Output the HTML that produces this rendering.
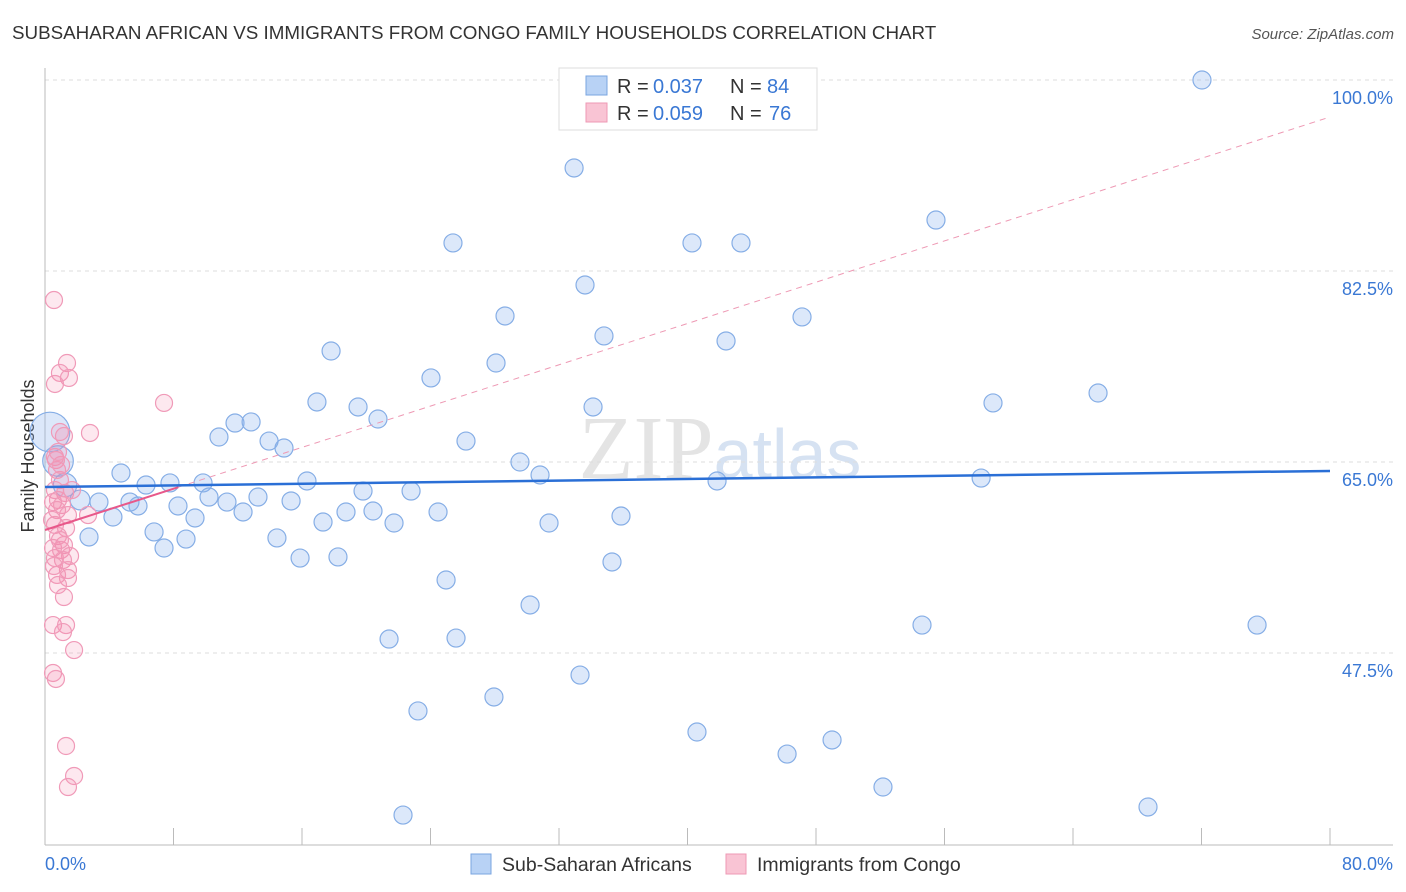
<!DOCTYPE html>
<html><head><meta charset="utf-8"><style>
body{margin:0;background:#fff;font-family:"Liberation Sans",sans-serif}
svg{display:block}
</style></head><body>
<svg id="c" width="1406" height="892" xmlns="http://www.w3.org/2000/svg">
<text x="12" y="39" font-size="18.8" fill="#333">SUBSAHARAN AFRICAN VS IMMIGRANTS FROM CONGO FAMILY HOUSEHOLDS CORRELATION CHART</text>
<text x="1394" y="39" font-size="15" fill="#555" font-style="italic" text-anchor="end">Source: ZipAtlas.com</text>
<text x="720" y="478" font-size="90" fill="#e4e4e4" text-anchor="middle" font-family="Liberation Serif,serif">ZIP<tspan fill="#d6e2f2" font-family="Liberation Sans,sans-serif" font-size="70">atlas</tspan></text>
<text transform="translate(34,456) rotate(-90)" font-size="18" fill="#333" text-anchor="middle">Family Households</text>
<g id="grid"></g><g id="axes"></g><g id="marks"></g>
<g>
<rect x="559" y="68" width="258" height="62" fill="#fff" stroke="#ddd"/>
<rect x="586" y="76" width="21" height="19" fill="#b8d2f5" stroke="#7aa5e0"/>
<rect x="586" y="103" width="21" height="19" fill="#f9c4d4" stroke="#ee99b4"/>
<text x="617" y="93" font-size="20" fill="#333">R =</text>
<text x="653" y="93" font-size="20" fill="#3a78d4">0.037</text>
<text x="730" y="93" font-size="20" fill="#333">N =</text>
<text x="767" y="93" font-size="20" fill="#3a78d4">84</text>
<text x="617" y="120" font-size="20" fill="#333">R =</text>
<text x="653" y="120" font-size="20" fill="#3a78d4">0.059</text>
<text x="730" y="120" font-size="20" fill="#333">N =</text>
<text x="769" y="120" font-size="20" fill="#3a78d4">76</text>
</g>
<g>
<rect x="471" y="854" width="20" height="20" fill="#b8d2f5" stroke="#7aa5e0"/>
<text x="502" y="871" font-size="19.5" fill="#333">Sub-Saharan Africans</text>
<rect x="726" y="854" width="20" height="20" fill="#f9c4d4" stroke="#ee99b4"/>
<text x="757" y="871" font-size="19.5" fill="#333">Immigrants from Congo</text>
</g>
</svg>
<script>
const yTicks=[100,82.5,65,47.5];
const yTickLabels=["100.0%","82.5%","65.0%","47.5%"];
const xTickLabels=["0.0%","80.0%"];
const blueX=[72.03,32.94,55.47,25.40,40.28,43.33,33.62,28.64,47.13,34.80,17.81,42.40,28.08,24.03,65.56,59.02,16.93,19.49,34.12,11.83,12.83,20.73,10.83,13.95,14.88,26.21,29.57,30.82,4.73,41.84,58.28,7.78,6.29,9.84,16.31,19.80,22.79,10.21,13.26,15.32,11.33,5.29,3.36,5.79,8.28,12.33,18.74,20.42,24.47,4.23,9.34,17.31,21.73,31.38,35.86,6.79,2.74,8.78,14.44,7.41,15.88,18.24,35.30,24.97,30.20,54.60,75.46,21.42,25.59,33.31,27.95,23.22,40.59,49.00,46.20,52.17,68.67,22.29,0.31,0.81,1.25,2.18];
const blueY=[100.0,91.94,87.17,85.07,85.07,85.07,81.22,78.38,78.29,76.55,75.17,76.09,74.07,72.70,71.32,70.41,70.50,70.04,70.04,68.57,68.67,68.94,67.29,66.92,66.28,66.92,65.0,63.81,63.99,63.26,63.53,63.08,62.89,63.08,63.26,62.34,62.34,61.79,61.79,61.43,61.33,61.33,61.33,60.97,60.97,60.42,60.42,60.51,60.42,59.96,59.87,59.50,59.41,59.41,60.05,58.59,58.13,57.94,58.04,57.12,56.20,56.30,55.84,54.19,51.90,50.06,50.06,48.78,48.87,45.48,43.47,42.19,40.26,39.53,38.24,35.22,33.39,32.65,67.75,65.09,62.89,61.52];
const blueSize=[];for(let i=0;i<blueX.length;i++)blueSize.push(1);
blueSize[78]=2.2;blueSize[79]=1.7;blueSize[80]=1.3;blueSize[81]=1.1;
const pinkX=[0.56,1.37,0.93,1.49,0.62,7.41,0.93,1.18,2.80,0.62,0.68,0.75,0.93,0.62,1.25,0.81,0.50,1.06,0.75,1.43,2.68,0.62,1.31,0.81,1.18,0.50,1.00,1.56,0.62,1.12,1.43,0.75,1.43,0.81,1.18,0.50,1.31,1.12,1.81,0.50,0.68,1.31,1.81,1.43,0.44,0.93,0.56,1.68,1.00,0.81];
const pinkY=[79.84,74.07,73.16,72.70,72.15,70.41,67.75,67.38,67.66,65.46,65.18,64.27,63.35,62.43,62.16,61.52,61.33,61.06,60.60,60.14,60.14,59.23,58.95,58.22,57.39,57.12,56.94,56.39,56.20,56.02,55.10,54.65,54.37,53.73,52.63,50.06,50.06,49.42,47.77,45.67,45.12,38.98,36.23,35.22,59.69,57.85,55.47,62.43,64.73,65.92];
const blueTrend=[62.71,64.18];
const pinkTrend=[58.77,96.61];
const X0=45,X1=1330;
const sx=v=>X0+(v/80)*(X1-X0);
const sy=v=>462-(v-65)*10.914;
const NS="http://www.w3.org/2000/svg";
function mk(t,a,p){const e=document.createElementNS(NS,t);for(const k in a)e.setAttribute(k,a[k]);p.appendChild(e);return e;}
const grid=document.getElementById('grid'),axes=document.getElementById('axes'),marks=document.getElementById('marks');
yTicks.forEach((t,i)=>{
 const l=mk('line',{x1:X0,x2:1393,y1:sy(t),y2:sy(t),stroke:'#ddd','stroke-dasharray':'4,4'},grid);
 
 
 const tx=mk('text',{x:1393,y:sy(t)+24,'font-size':18,fill:'#3a78d4','text-anchor':'end'},axes);
 tx.textContent=yTickLabels[i];
 
 
});
const ya=mk('line',{x1:X0,x2:X0,y1:68,y2:845,stroke:'#bbb'},axes);


const xa=mk('line',{x1:X0,x2:1393,y1:845,y2:845,stroke:'#bbb'},axes);


for(let i=0;i<=10;i++){
 const tk=mk('line',{x1:sx(i*8),x2:sx(i*8),y1:828,y2:845,stroke:'#bbb'},axes);
 
 
}
[[0,'start',X0],[1,'end',1393]].forEach(([i,a,x])=>{
 const t=mk('text',{x:x,y:870,'font-size':18,fill:'#3a78d4','text-anchor':a},axes);
 t.textContent=xTickLabels[i];
 
 
});
blueX.forEach((x,i)=>{
 const c=mk('circle',{cx:sx(x),cy:sy(blueY[i]),r:9*blueSize[i],fill:'rgba(140,180,240,0.3)',stroke:'#86aee6','stroke-width':1.2},marks);
 
 
});
pinkX.forEach((x,i)=>{
 const c=mk('circle',{cx:sx(x),cy:sy(pinkY[i]),r:8.5,fill:'rgba(245,140,175,0.2)',stroke:'#f09ab8','stroke-width':1.2},marks);
 
 
});
const pY=x=>pinkTrend[0]+(pinkTrend[1]-pinkTrend[0])*x/80;
const pd=mk('line',{x1:sx(8.3),y1:sy(pY(8.3)),x2:sx(80),y2:sy(pY(80)),stroke:'#ee99b4','stroke-dasharray':'6,5','stroke-width':1},marks);


const ps=mk('line',{x1:sx(0),y1:sy(pY(0)),x2:sx(8.3),y2:sy(pY(8.3)),stroke:'#e8588a','stroke-width':2},marks);


const bl=mk('line',{x1:sx(0),y1:sy(blueTrend[0]),x2:sx(80),y2:sy(blueTrend[1]),stroke:'#2a6fd6','stroke-width':2.5},marks);


</script>
</body></html>
